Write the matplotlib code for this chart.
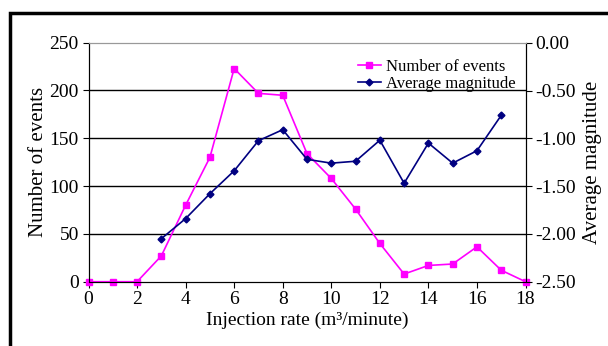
import matplotlib
matplotlib.use("Agg")
import matplotlib.pyplot as plt
from matplotlib.patches import Rectangle
from matplotlib.ticker import FormatStrFormatter

plt.rcParams['font.family'] = ['Liberation Serif', 'DejaVu Serif']
plt.rcParams['axes.unicode_minus'] = False

rate = list(range(19))
events = [0, 0, 0, 27, 80, 130, 223, 197, 195, 134, 108, 76, 40, 8, 17, 18.5, 36.5, 12, 0]
mag_rate = list(range(3, 18))
magnitude = [-2.05, -1.84, -1.58, -1.34, -1.025, -0.91, -1.22, -1.26, -1.24, -1.02,
             -1.47, -1.05, -1.26, -1.13, -0.76]

fig = plt.figure(figsize=(6.08, 3.46), dpi=100)
L, R, T, B = 88.5, 525.5, 42.7, 281.7
ax = fig.add_axes([L / 608, 1 - B / 346, (R - L) / 608, (B - T) / 346])
ax2 = ax.twinx()

ax.plot(rate, events, color='#FF00FF', marker='s', markersize=4.5, lw=1.2,
        label='Number of events', clip_on=False, zorder=3)
ax2.plot(mag_rate, magnitude, color='#000080', marker='D', markersize=3.5, lw=1.2,
         label='Average magnitude', clip_on=False, zorder=3)

ax.set_xlim(0, 18)
ax.set_ylim(0, 250)
ax2.set_ylim(-2.5, 0)
ax.set_xticks(range(0, 19, 2))
ax.set_yticks(range(0, 251, 50))
ax2.set_yticks([-2.5, -2.0, -1.5, -1.0, -0.5, 0.0])
ax2.yaxis.set_major_formatter(FormatStrFormatter('%.2f'))

for y in [50, 100, 150, 200]:
    ax.axhline(y, color='black', lw=1.0, zorder=1)

for a in (ax, ax2):
    a.tick_params(axis='both', direction='out', length=4, width=0.8, labelsize=14, pad=3)
ax.spines['top'].set_color('#999999')
ax2.spines['top'].set_color('#999999')

ax.set_ylabel('Number of events', fontsize=15, labelpad=1)
ax2.set_ylabel('Average magnitude', fontsize=15, labelpad=5)
ax.set_xlabel('Injection rate (m³/minute)', fontsize=14, labelpad=2)

h1, l1 = ax.get_legend_handles_labels()
h2, l2 = ax2.get_legend_handles_labels()
ax2.legend(h1 + h2, l1 + l2, loc='upper right', frameon=False, fontsize=12,
           handlelength=1.4, borderaxespad=0.2, labelspacing=0.05, handletextpad=0.3,
           bbox_to_anchor=(1.0, 0.975))

fig.patches.append(Rectangle((10 / 608, -0.1), 1.2, 1 - 13 / 346 + 0.1,
                             transform=fig.transFigure, fill=False, lw=2.5,
                             edgecolor='black'))

fig.savefig('out.png', dpi=100)
